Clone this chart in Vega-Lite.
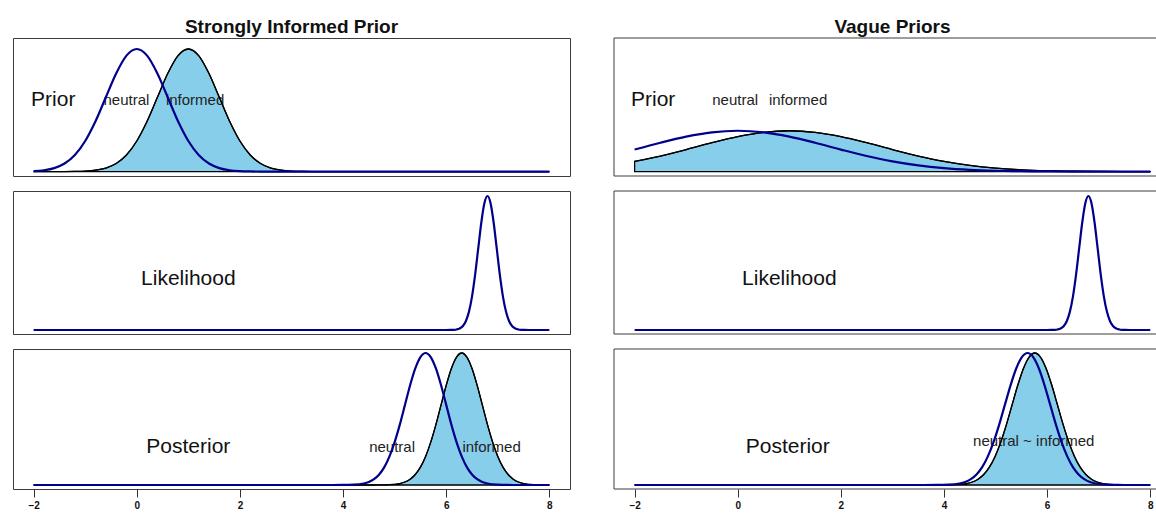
{
  "$schema": "https://vega.github.io/schema/vega-lite/v6.json",
  "padding": {"left": 12, "top": 17, "right": 0, "bottom": 0},
  "config": {
    "view": {"stroke": "#3c3c3c", "strokeWidth": 1},
    "font": "Liberation Sans",
    "title": {"fontSize": 19, "fontWeight": "bold", "color": "#111111", "offset": 1, "anchor": "middle", "font": "Liberation Sans"}
  },
  "datasets": {
    "sN": [{"theta":-2,"density":0.0026},{"theta":-1.8,"density":0.0074},{"theta":-1.6,"density":0.019},{"theta":-1.4,"density":0.0437},{"theta":-1.2,"density":0.09},{"theta":-1,"density":0.166},{"theta":-0.8,"density":0.273},{"theta":-0.6,"density":0.403},{"theta":-0.4,"density":0.532},{"theta":-0.2,"density":0.629},{"theta":0,"density":0.665},{"theta":0.2,"density":0.629},{"theta":0.4,"density":0.532},{"theta":0.6,"density":0.403},{"theta":0.8,"density":0.273},{"theta":1,"density":0.166},{"theta":1.2,"density":0.09},{"theta":1.4,"density":0.0437},{"theta":1.6,"density":0.019},{"theta":1.8,"density":0.0074},{"theta":2,"density":0.0026},{"theta":2.2,"density":0.0008},{"theta":2.4,"density":0.0002},{"theta":3,"density":0},{"theta":8,"density":0}],
    "sI": [{"theta":-2,"density":0},{"theta":-1.4,"density":0.0002},{"theta":-1.2,"density":0.0008},{"theta":-1,"density":0.0026},{"theta":-0.8,"density":0.0074},{"theta":-0.6,"density":0.019},{"theta":-0.4,"density":0.0437},{"theta":-0.2,"density":0.09},{"theta":0,"density":0.166},{"theta":0.2,"density":0.273},{"theta":0.4,"density":0.403},{"theta":0.6,"density":0.532},{"theta":0.8,"density":0.629},{"theta":1,"density":0.665},{"theta":1.2,"density":0.629},{"theta":1.4,"density":0.532},{"theta":1.6,"density":0.403},{"theta":1.8,"density":0.273},{"theta":2,"density":0.166},{"theta":2.2,"density":0.09},{"theta":2.4,"density":0.0437},{"theta":2.6,"density":0.019},{"theta":2.8,"density":0.0074},{"theta":3,"density":0.0026},{"theta":3.2,"density":0.0008},{"theta":3.4,"density":0.0002},{"theta":4,"density":0},{"theta":8,"density":0}],
    "vN": [{"theta":-2,"density":0.1195},{"theta":-1.5,"density":0.1566},{"theta":-1,"density":0.1899},{"theta":-0.5,"density":0.2132},{"theta":0,"density":0.2216},{"theta":0.5,"density":0.2132},{"theta":1,"density":0.1899},{"theta":1.5,"density":0.1566},{"theta":2,"density":0.1195},{"theta":2.5,"density":0.0845},{"theta":3,"density":0.0553},{"theta":3.5,"density":0.0335},{"theta":4,"density":0.0188},{"theta":4.5,"density":0.0097},{"theta":5,"density":0.0047},{"theta":5.5,"density":0.0021},{"theta":6,"density":0.0009},{"theta":6.5,"density":0.0003},{"theta":7,"density":0.0001},{"theta":7.5,"density":0},{"theta":8,"density":0}],
    "vI": [{"theta":-2,"density":0.0553},{"theta":-1.5,"density":0.0845},{"theta":-1,"density":0.1195},{"theta":-0.5,"density":0.1566},{"theta":0,"density":0.1899},{"theta":0.5,"density":0.2132},{"theta":1,"density":0.2216},{"theta":1.5,"density":0.2132},{"theta":2,"density":0.1899},{"theta":2.5,"density":0.1566},{"theta":3,"density":0.1195},{"theta":3.5,"density":0.0845},{"theta":4,"density":0.0553},{"theta":4.5,"density":0.0335},{"theta":5,"density":0.0188},{"theta":5.5,"density":0.0097},{"theta":6,"density":0.0047},{"theta":6.5,"density":0.0021},{"theta":7,"density":0.0009},{"theta":7.5,"density":0.0003},{"theta":8,"density":0.0001}],
    "lik": [{"theta":-2,"density":0},{"theta":6,"density":0},{"theta":6.08,"density":0.0007},{"theta":6.14,"density":0.0027},{"theta":6.2,"density":0.0086},{"theta":6.26,"density":0.0246},{"theta":6.32,"density":0.0632},{"theta":6.38,"density":0.1456},{"theta":6.44,"density":0.3},{"theta":6.5,"density":0.553},{"theta":6.56,"density":0.911},{"theta":6.62,"density":1.344},{"theta":6.68,"density":1.774},{"theta":6.74,"density":2.096},{"theta":6.8,"density":2.216},{"theta":6.86,"density":2.096},{"theta":6.92,"density":1.774},{"theta":6.98,"density":1.344},{"theta":7.04,"density":0.911},{"theta":7.1,"density":0.553},{"theta":7.16,"density":0.3},{"theta":7.22,"density":0.1456},{"theta":7.28,"density":0.0632},{"theta":7.34,"density":0.0246},{"theta":7.4,"density":0.0086},{"theta":7.46,"density":0.0027},{"theta":7.52,"density":0.0007},{"theta":7.6,"density":0},{"theta":8,"density":0}],
    "pSN": [{"theta":-2,"density":0},{"theta":3.8,"density":0},{"theta":4,"density":0.0003},{"theta":4.2,"density":0.0022},{"theta":4.4,"density":0.0111},{"theta":4.5,"density":0.0227},{"theta":4.6,"density":0.0438},{"theta":4.7,"density":0.0794},{"theta":4.8,"density":0.135},{"theta":4.9,"density":0.216},{"theta":5,"density":0.324},{"theta":5.1,"density":0.456},{"theta":5.2,"density":0.605},{"theta":5.3,"density":0.753},{"theta":5.4,"density":0.88},{"theta":5.5,"density":0.966},{"theta":5.6,"density":0.997},{"theta":5.7,"density":0.966},{"theta":5.8,"density":0.88},{"theta":5.9,"density":0.753},{"theta":6,"density":0.605},{"theta":6.1,"density":0.456},{"theta":6.2,"density":0.324},{"theta":6.3,"density":0.216},{"theta":6.4,"density":0.135},{"theta":6.5,"density":0.0794},{"theta":6.6,"density":0.0438},{"theta":6.7,"density":0.0227},{"theta":6.8,"density":0.0111},{"theta":7,"density":0.0022},{"theta":7.2,"density":0.0003},{"theta":7.4,"density":0},{"theta":8,"density":0}],
    "pSI": [{"theta":-2,"density":0},{"theta":4.5,"density":0},{"theta":4.7,"density":0.0003},{"theta":4.9,"density":0.0022},{"theta":5.1,"density":0.0111},{"theta":5.2,"density":0.0227},{"theta":5.3,"density":0.0438},{"theta":5.4,"density":0.0794},{"theta":5.5,"density":0.135},{"theta":5.6,"density":0.216},{"theta":5.7,"density":0.324},{"theta":5.8,"density":0.456},{"theta":5.9,"density":0.605},{"theta":6,"density":0.753},{"theta":6.1,"density":0.88},{"theta":6.2,"density":0.966},{"theta":6.3,"density":0.997},{"theta":6.4,"density":0.966},{"theta":6.5,"density":0.88},{"theta":6.6,"density":0.753},{"theta":6.7,"density":0.605},{"theta":6.8,"density":0.456},{"theta":6.9,"density":0.324},{"theta":7,"density":0.216},{"theta":7.1,"density":0.135},{"theta":7.2,"density":0.0794},{"theta":7.3,"density":0.0438},{"theta":7.4,"density":0.0227},{"theta":7.5,"density":0.0111},{"theta":7.7,"density":0.0022},{"theta":7.9,"density":0.0003},{"theta":8,"density":0}],
    "pVN": [{"theta":-2,"density":0},{"theta":3.6,"density":0},{"theta":3.86,"density":0.0003},{"theta":4.08,"density":0.0022},{"theta":4.3,"density":0.0111},{"theta":4.41,"density":0.0227},{"theta":4.52,"density":0.0438},{"theta":4.63,"density":0.0794},{"theta":4.74,"density":0.135},{"theta":4.85,"density":0.216},{"theta":4.96,"density":0.324},{"theta":5.07,"density":0.456},{"theta":5.18,"density":0.605},{"theta":5.29,"density":0.753},{"theta":5.4,"density":0.88},{"theta":5.51,"density":0.966},{"theta":5.62,"density":0.997},{"theta":5.73,"density":0.966},{"theta":5.84,"density":0.88},{"theta":5.95,"density":0.753},{"theta":6.06,"density":0.605},{"theta":6.17,"density":0.456},{"theta":6.28,"density":0.324},{"theta":6.39,"density":0.216},{"theta":6.5,"density":0.135},{"theta":6.61,"density":0.0794},{"theta":6.72,"density":0.0438},{"theta":6.83,"density":0.0227},{"theta":6.94,"density":0.0111},{"theta":7.16,"density":0.0022},{"theta":7.38,"density":0.0003},{"theta":7.6,"density":0},{"theta":8,"density":0}],
    "pVI": [{"theta":-2,"density":0},{"theta":3.75,"density":0},{"theta":4,"density":0.0003},{"theta":4.22,"density":0.0022},{"theta":4.44,"density":0.0111},{"theta":4.55,"density":0.0227},{"theta":4.66,"density":0.0438},{"theta":4.77,"density":0.0794},{"theta":4.88,"density":0.135},{"theta":4.99,"density":0.216},{"theta":5.1,"density":0.324},{"theta":5.21,"density":0.456},{"theta":5.32,"density":0.605},{"theta":5.43,"density":0.753},{"theta":5.54,"density":0.88},{"theta":5.65,"density":0.966},{"theta":5.76,"density":0.997},{"theta":5.87,"density":0.966},{"theta":5.98,"density":0.88},{"theta":6.09,"density":0.753},{"theta":6.2,"density":0.605},{"theta":6.31,"density":0.456},{"theta":6.42,"density":0.324},{"theta":6.53,"density":0.216},{"theta":6.64,"density":0.135},{"theta":6.75,"density":0.0794},{"theta":6.86,"density":0.0438},{"theta":6.97,"density":0.0227},{"theta":7.08,"density":0.0111},{"theta":7.3,"density":0.0022},{"theta":7.52,"density":0.0003},{"theta":7.75,"density":0},{"theta":8,"density":0}]
  },
  "spacing": 42,
  "hconcat": [
    {
      "spacing": 13,
      "vconcat": [
        {
          "width": 557, "height": 138,
          "title": "Strongly Informed Prior",
          "layer": [
            {"data": {"name": "sI"}, "mark": {"type": "area", "interpolate": "monotone", "fill": "#87CEEB", "stroke": "#000000", "strokeWidth": 1.3},
             "encoding": {"x": {"field": "theta", "type": "quantitative", "scale": {"domain": [-2.4, 8.4], "nice": false, "zero": false}, "axis": null},
                          "y": {"field": "density", "type": "quantitative", "scale": {"domain": [-0.0239, 0.7246], "nice": false, "zero": false}, "axis": null},
                          "y2": {"datum": 0}}},
            {"data": {"values": [{"label": "Prior"}]}, "mark": {"type": "text", "fontSize": 21, "align": "left", "baseline": "middle", "color": "#111111"},
             "encoding": {"x": {"datum": -2.05, "type": "quantitative", "axis": null}, "y": {"datum": 0.388, "type": "quantitative", "axis": null}, "text": {"field": "label"}}},
            {"data": {"values": [{"label": "neutral"}]}, "mark": {"type": "text", "fontSize": 15, "align": "center", "baseline": "middle", "color": "#222222"},
             "encoding": {"x": {"datum": -0.2, "type": "quantitative", "axis": null}, "y": {"datum": 0.388, "type": "quantitative", "axis": null}, "text": {"field": "label"}}},
            {"data": {"values": [{"label": "informed"}]}, "mark": {"type": "text", "fontSize": 15, "align": "center", "baseline": "middle", "color": "#222222"},
             "encoding": {"x": {"datum": 1.13, "type": "quantitative", "axis": null}, "y": {"datum": 0.388, "type": "quantitative", "axis": null}, "text": {"field": "label"}}},
            {"data": {"name": "sI"}, "mark": {"type": "line", "interpolate": "monotone", "color": "#000000", "strokeWidth": 1.3},
             "encoding": {"x": {"field": "theta", "type": "quantitative", "axis": null}, "y": {"field": "density", "type": "quantitative", "axis": null}}},
            {"data": {"name": "sN"}, "mark": {"type": "line", "interpolate": "monotone", "color": "#00008B", "strokeWidth": 2.2},
             "encoding": {"x": {"field": "theta", "type": "quantitative", "axis": null}, "y": {"field": "density", "type": "quantitative", "axis": null}}}
          ]
        },
        {
          "width": 557, "height": 143,
          "layer": [
            {"data": {"name": "lik"}, "mark": {"type": "line", "interpolate": "monotone", "color": "#00008B", "strokeWidth": 2.2},
             "encoding": {"x": {"field": "theta", "type": "quantitative", "scale": {"domain": [-2.4, 8.4], "nice": false, "zero": false}, "axis": null},
                          "y": {"field": "density", "type": "quantitative", "scale": {"domain": [-0.0662, 2.2987], "nice": false, "zero": false}, "axis": null}}},
            {"data": {"values": [{"label": "Likelihood"}]}, "mark": {"type": "text", "fontSize": 21, "align": "center", "baseline": "middle", "color": "#111111"},
             "encoding": {"x": {"datum": 1, "type": "quantitative", "axis": null}, "y": {"datum": 0.843, "type": "quantitative", "axis": null}, "text": {"field": "label"}}}
          ]
        },
        {
          "width": 557, "height": 140,
          "layer": [
            {"data": {"name": "pSI"}, "mark": {"type": "area", "interpolate": "monotone", "fill": "#87CEEB", "stroke": "#000000", "strokeWidth": 1.3},
             "encoding": {"x": {"field": "theta", "type": "quantitative", "scale": {"domain": [-2.4, 8.4], "nice": false, "zero": false},
                                "axis": {"values": [-2, 0, 2, 4, 6, 8], "title": null, "domain": false, "grid": false, "tickSize": 8, "tickColor": "#333333", "labelFontSize": 10, "labelFontWeight": "bold", "labelColor": "#111111", "labelPadding": 3, "labelFont": "Liberation Sans"}},
                          "y": {"field": "density", "type": "quantitative", "scale": {"domain": [-0.0302, 1.0272], "nice": false, "zero": false}, "axis": null},
                          "y2": {"datum": 0}}},
            {"data": {"values": [{"label": "Posterior"}]}, "mark": {"type": "text", "fontSize": 21, "align": "center", "baseline": "middle", "color": "#111111"},
             "encoding": {"x": {"datum": 1, "type": "quantitative"}, "y": {"datum": 0.287, "type": "quantitative", "axis": null}, "text": {"field": "label"}}},
            {"data": {"values": [{"label": "neutral"}]}, "mark": {"type": "text", "fontSize": 15, "align": "center", "baseline": "middle", "color": "#222222"},
             "encoding": {"x": {"datum": 4.95, "type": "quantitative"}, "y": {"datum": 0.287, "type": "quantitative", "axis": null}, "text": {"field": "label"}}},
            {"data": {"values": [{"label": "informed"}]}, "mark": {"type": "text", "fontSize": 15, "align": "center", "baseline": "middle", "color": "#222222"},
             "encoding": {"x": {"datum": 6.88, "type": "quantitative"}, "y": {"datum": 0.287, "type": "quantitative", "axis": null}, "text": {"field": "label"}}},
            {"data": {"name": "pSI"}, "mark": {"type": "line", "interpolate": "monotone", "color": "#000000", "strokeWidth": 1.3},
             "encoding": {"x": {"field": "theta", "type": "quantitative"}, "y": {"field": "density", "type": "quantitative", "axis": null}}},
            {"data": {"name": "pSN"}, "mark": {"type": "line", "interpolate": "monotone", "color": "#00008B", "strokeWidth": 2.2},
             "encoding": {"x": {"field": "theta", "type": "quantitative"}, "y": {"field": "density", "type": "quantitative", "axis": null}}}
          ]
        }
      ]
    },
    {
      "spacing": 13,
      "vconcat": [
        {
          "width": 545, "height": 138,
          "title": {"text": "Vague Priors", "dx": 6},
          "view": {"stroke": null},
          "layer": [
            {"data": {"name": "vI"}, "mark": {"type": "area", "interpolate": "monotone", "fill": "#87CEEB", "stroke": "#000000", "strokeWidth": 1.3},
             "encoding": {"x": {"field": "theta", "type": "quantitative", "scale": {"domain": [-2.4, 8.169], "nice": false, "zero": false}, "axis": null},
                          "y": {"field": "density", "type": "quantitative", "scale": {"domain": [-0.0239, 0.7246], "nice": false, "zero": false}, "axis": null},
                          "y2": {"datum": 0}}},
            {"data": {"values": [{"edge": "left"}]}, "mark": {"type": "rule", "color": "#3c3c3c", "strokeWidth": 1},
             "encoding": {"x": {"datum": -2.4, "type": "quantitative", "axis": null}}},
            {"data": {"values": [{"edge": "top"}]}, "mark": {"type": "rule", "color": "#3c3c3c", "strokeWidth": 1},
             "encoding": {"y": {"datum": 0.7246, "type": "quantitative", "axis": null}}},
            {"data": {"values": [{"edge": "bottom"}]}, "mark": {"type": "rule", "color": "#3c3c3c", "strokeWidth": 1},
             "encoding": {"y": {"datum": -0.0239, "type": "quantitative", "axis": null}}},
            {"data": {"values": [{"label": "Prior"}]}, "mark": {"type": "text", "fontSize": 21, "align": "left", "baseline": "middle", "color": "#111111"},
             "encoding": {"x": {"datum": -2.07, "type": "quantitative", "axis": null}, "y": {"datum": 0.388, "type": "quantitative", "axis": null}, "text": {"field": "label"}}},
            {"data": {"values": [{"label": "neutral"}]}, "mark": {"type": "text", "fontSize": 15, "align": "center", "baseline": "middle", "color": "#222222"},
             "encoding": {"x": {"datum": -0.05, "type": "quantitative", "axis": null}, "y": {"datum": 0.388, "type": "quantitative", "axis": null}, "text": {"field": "label"}}},
            {"data": {"values": [{"label": "informed"}]}, "mark": {"type": "text", "fontSize": 15, "align": "center", "baseline": "middle", "color": "#222222"},
             "encoding": {"x": {"datum": 1.17, "type": "quantitative", "axis": null}, "y": {"datum": 0.388, "type": "quantitative", "axis": null}, "text": {"field": "label"}}},
            {"data": {"name": "vI"}, "mark": {"type": "line", "interpolate": "monotone", "color": "#000000", "strokeWidth": 1.3},
             "encoding": {"x": {"field": "theta", "type": "quantitative", "axis": null}, "y": {"field": "density", "type": "quantitative", "axis": null}}},
            {"data": {"name": "vN"}, "mark": {"type": "line", "interpolate": "monotone", "color": "#00008B", "strokeWidth": 2.2},
             "encoding": {"x": {"field": "theta", "type": "quantitative", "axis": null}, "y": {"field": "density", "type": "quantitative", "axis": null}}}
          ]
        },
        {
          "width": 545, "height": 143,
          "view": {"stroke": null},
          "layer": [
            {"data": {"name": "lik"}, "mark": {"type": "line", "interpolate": "monotone", "color": "#00008B", "strokeWidth": 2.2},
             "encoding": {"x": {"field": "theta", "type": "quantitative", "scale": {"domain": [-2.4, 8.169], "nice": false, "zero": false}, "axis": null},
                          "y": {"field": "density", "type": "quantitative", "scale": {"domain": [-0.0662, 2.2987], "nice": false, "zero": false}, "axis": null}}},
            {"data": {"values": [{"edge": "left"}]}, "mark": {"type": "rule", "color": "#3c3c3c", "strokeWidth": 1},
             "encoding": {"x": {"datum": -2.4, "type": "quantitative", "axis": null}}},
            {"data": {"values": [{"edge": "top"}]}, "mark": {"type": "rule", "color": "#3c3c3c", "strokeWidth": 1},
             "encoding": {"y": {"datum": 2.2987, "type": "quantitative", "axis": null}}},
            {"data": {"values": [{"edge": "bottom"}]}, "mark": {"type": "rule", "color": "#3c3c3c", "strokeWidth": 1},
             "encoding": {"y": {"datum": -0.0662, "type": "quantitative", "axis": null}}},
            {"data": {"values": [{"label": "Likelihood"}]}, "mark": {"type": "text", "fontSize": 21, "align": "center", "baseline": "middle", "color": "#111111"},
             "encoding": {"x": {"datum": 1, "type": "quantitative", "axis": null}, "y": {"datum": 0.843, "type": "quantitative", "axis": null}, "text": {"field": "label"}}}
          ]
        },
        {
          "width": 545, "height": 140,
          "view": {"stroke": null},
          "layer": [
            {"data": {"name": "pVI"}, "mark": {"type": "area", "interpolate": "monotone", "fill": "#87CEEB", "stroke": "#000000", "strokeWidth": 1.3},
             "encoding": {"x": {"field": "theta", "type": "quantitative", "scale": {"domain": [-2.4, 8.169], "nice": false, "zero": false},
                                "axis": {"values": [-2, 0, 2, 4, 6, 8], "title": null, "domain": false, "grid": false, "tickSize": 8, "tickColor": "#333333", "labelFontSize": 10, "labelFontWeight": "bold", "labelColor": "#111111", "labelPadding": 3, "labelFont": "Liberation Sans"}},
                          "y": {"field": "density", "type": "quantitative", "scale": {"domain": [-0.0302, 1.0272], "nice": false, "zero": false}, "axis": null},
                          "y2": {"datum": 0}}},
            {"data": {"values": [{"edge": "left"}]}, "mark": {"type": "rule", "color": "#3c3c3c", "strokeWidth": 1},
             "encoding": {"x": {"datum": -2.4, "type": "quantitative"}}},
            {"data": {"values": [{"edge": "top"}]}, "mark": {"type": "rule", "color": "#3c3c3c", "strokeWidth": 1},
             "encoding": {"y": {"datum": 1.0272, "type": "quantitative", "axis": null}}},
            {"data": {"values": [{"edge": "bottom"}]}, "mark": {"type": "rule", "color": "#3c3c3c", "strokeWidth": 1},
             "encoding": {"y": {"datum": -0.0302, "type": "quantitative", "axis": null}}},
            {"data": {"values": [{"label": "Posterior"}]}, "mark": {"type": "text", "fontSize": 21, "align": "center", "baseline": "middle", "color": "#111111"},
             "encoding": {"x": {"datum": 0.97, "type": "quantitative"}, "y": {"datum": 0.287, "type": "quantitative", "axis": null}, "text": {"field": "label"}}},
            {"data": {"values": [{"label": "neutral ~ informed"}]}, "mark": {"type": "text", "fontSize": 15, "align": "center", "baseline": "middle", "color": "#222222"},
             "encoding": {"x": {"datum": 5.74, "type": "quantitative"}, "y": {"datum": 0.332, "type": "quantitative", "axis": null}, "text": {"field": "label"}}},
            {"data": {"name": "pVI"}, "mark": {"type": "line", "interpolate": "monotone", "color": "#000000", "strokeWidth": 1.3},
             "encoding": {"x": {"field": "theta", "type": "quantitative"}, "y": {"field": "density", "type": "quantitative", "axis": null}}},
            {"data": {"name": "pVN"}, "mark": {"type": "line", "interpolate": "monotone", "color": "#00008B", "strokeWidth": 2.2},
             "encoding": {"x": {"field": "theta", "type": "quantitative"}, "y": {"field": "density", "type": "quantitative", "axis": null}}}
          ]
        }
      ]
    }
  ]
}
